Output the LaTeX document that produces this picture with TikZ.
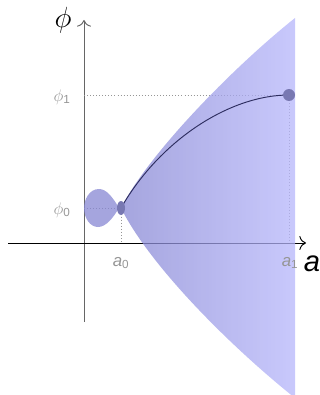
\documentclass[tikz,border=0pt]{standalone}
\usepackage{fontspec}
\setmainfont{Liberation Sans}
\usetikzlibrary{arrows.meta}
\definecolor{coneL}{RGB}{135,135,211}
\definecolor{coneR}{RGB}{182,182,251}
\definecolor{pathInk}{RGB}{45,45,95}
\definecolor{tickInk}{RGB}{150,150,150}
\definecolor{dotInk}{RGB}{120,120,178}

\begin{document}
\begin{tikzpicture}[
    x=0.03cm, y=-0.03cm,
    axis/.style={-{To[length=2mm]}, line width=0.8pt},
    guide/.style={tickInk, dotted, line width=0.6pt},
    tick/.style={font=\Large\itshape, text=tickInk},
    axlbl/.style={font=\Huge\itshape},
    region/.style={opacity=0.75}
]
\useasboundingbox (0,0) rectangle (320,395);
\clip (0,0) rectangle (320,395);

% --- Eixos ---
\coordinate (O) at (84,243);
\coordinate (yTop) at (84,20);
\coordinate (yBot) at (84,322);
\coordinate (xL) at (8,243);
\coordinate (xR) at (306,243);

\draw[axis, black!60] (yBot) -- (yTop);
\draw[axis] (xL) -- (xR);

% --- Pontos inicial e final ---
\coordinate (P0) at (121,208);
\coordinate (P1) at (289,95);

\draw[guide] (O |- P1) -- (P1) -- (P1 |- O);
\draw[guide] (O |- P0) -- (P0) -- (P0 |- O);

% --- Regiao sombreada ---
\shade[region, left color=coneL, right color=coneR]
    (P0) .. controls (148,155) and (230,70) .. (295,18)
    -- (295,398) .. controls (230,346) and (150,266) .. (P0) -- cycle;

\fill[region, coneL] (119,208) .. controls (112,196) and (106,189) .. (99,189)
    .. controls (89,189) and (84,200) .. (84,208)
    .. controls (84,218) and (90,227) .. (98,227)
    .. controls (106,227) and (113,218) .. (119,208) -- cycle;

% --- Trajetoria ---
\draw[pathInk, line width=0.8pt] (P0) .. controls (160,140) and (230,95) .. (P1);

\fill[dotInk] (P0) ellipse [x radius=4, y radius=7];
\fill[dotInk] (P1) circle [radius=6];

% --- Rotulos ---
\node[axlbl] (phiLbl) at (63,20) {$\phi$};
\node[axlbl] (aLbl) at (312,264) {a};
\node[tick] (phiOne) at (62,97) {$\phi${\upshape\textsubscript{1}}};
\node[tick] (phiZero) at (62,210) {$\phi${\upshape\textsubscript{0}}};
\node[tick] (aZero) at (121,263) {a{\upshape\textsubscript{0}}};
\node[tick] (aOne) at (290,263) {a{\upshape\textsubscript{1}}};

\end{tikzpicture}
\end{document}
